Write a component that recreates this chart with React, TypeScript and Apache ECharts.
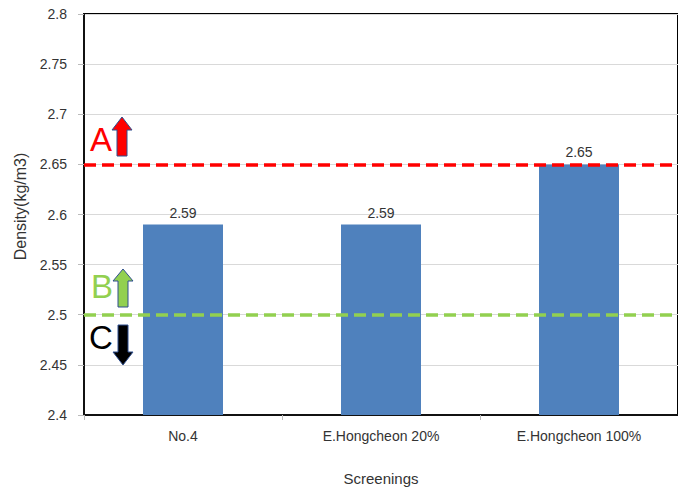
import React, { useEffect, useRef } from "react";
import * as echarts from "echarts";

const categories = ["No.4", "E.Hongcheon 20%", "E.Hongcheon 100%"];
const densities = [2.59, 2.59, 2.65];
const yTicks = { min: 2.4, max: 2.8, interval: 0.05 };
const limitA = 2.65;
const limitB = 2.5;

const FONT = "Liberation Sans, Arial, sans-serif";

export default function App() {
  const ref = useRef<HTMLDivElement>(null);
  useEffect(() => {
    document.body.style.margin = "0";
    const chart = echarts.init(ref.current!, null, { renderer: "svg" });
    const arrowStroke = { stroke: "#2f4f8f", lineWidth: 1 };
    chart.setOption({
      animation: false,
      backgroundColor: "#fff",
      grid: {
        left: 84,
        top: 14,
        width: 600,
        height: 402,
        show: true,
        borderColor: "#000",
        borderWidth: 2,
        backgroundColor: "transparent",
      },
      xAxis: {
        type: "category",
        data: categories,
        name: "Screenings",
        nameLocation: "middle",
        nameGap: 56,
        nameTextStyle: { fontFamily: FONT, fontSize: 15, color: "#333" },
        axisLine: { lineStyle: { color: "#111", width: 2 } },
        axisTick: { show: true, length: 5, lineStyle: { color: "#bbb" } },
        axisLabel: { fontFamily: FONT, fontSize: 14, color: "#333", margin: 14 },
      },
      yAxis: {
        type: "value",
        min: yTicks.min,
        max: yTicks.max,
        interval: yTicks.interval,
        name: "Density(kg/m3)",
        nameLocation: "middle",
        nameGap: 55,
        nameTextStyle: { fontFamily: FONT, fontSize: 16, color: "#333", padding: [0, 0, 0, 16] },
        axisLine: { show: true, lineStyle: { color: "#111", width: 2 } },
        axisTick: { show: true, length: 6, lineStyle: { color: "#bbb" } },
        axisLabel: {
          fontFamily: FONT,
          fontSize: 14,
          color: "#333",
          margin: 17,
          formatter: (v: number) => String(parseFloat(v.toFixed(2))),
        },
        splitLine: { lineStyle: { color: "#d9d9d9", width: 1 } },
      },
      series: [
        {
          type: "bar",
          data: densities,
          barWidth: 80,
          itemStyle: { color: "#4f81bd" },
          label: {
            show: true,
            position: "top",
            distance: 5,
            fontFamily: FONT,
            fontSize: 14,
            color: "#333",
            formatter: (p: any) => p.value.toFixed(2),
          },
          markLine: {
            silent: true,
            symbol: "none",
            label: { show: false },
            data: [
              { yAxis: limitA, lineStyle: { color: "#ff0000", width: 3.5, type: [12, 6] } },
              { yAxis: limitB, lineStyle: { color: "#92d050", width: 3.5, type: [12, 6] } },
            ],
          },
        },
      ],
      graphic: [
        {
          type: "text",
          x: 90,
          y: 123,
          style: { text: "A", fontFamily: FONT, fontSize: 33, fill: "#ff0000" },
        },
        {
          type: "polygon",
          shape: {
            points: [
              [122, 117], [132, 130], [127, 130], [127, 156], [117, 156], [117, 130], [112, 130],
            ],
          },
          style: { fill: "#ff0000", ...arrowStroke },
        },
        {
          type: "text",
          x: 91,
          y: 270,
          style: { text: "B", fontFamily: FONT, fontSize: 33, fill: "#92d050" },
        },
        {
          type: "polygon",
          shape: {
            points: [
              [123, 269], [133, 281], [128, 281], [128, 307], [118, 307], [118, 281], [113, 281],
            ],
          },
          style: { fill: "#92d050", ...arrowStroke },
        },
        {
          type: "text",
          x: 89,
          y: 321,
          style: { text: "C", fontFamily: FONT, fontSize: 33, fill: "#000" },
        },
        {
          type: "polygon",
          shape: {
            points: [
              [118, 325], [128, 325], [128, 352], [133, 352], [123, 365], [113, 352], [118, 352],
            ],
          },
          style: { fill: "#000", ...arrowStroke },
        },
      ],
    });
    return () => chart.dispose();
  }, []);
  return <div ref={ref} style={{ width: 678, height: 491 }} />;
}
